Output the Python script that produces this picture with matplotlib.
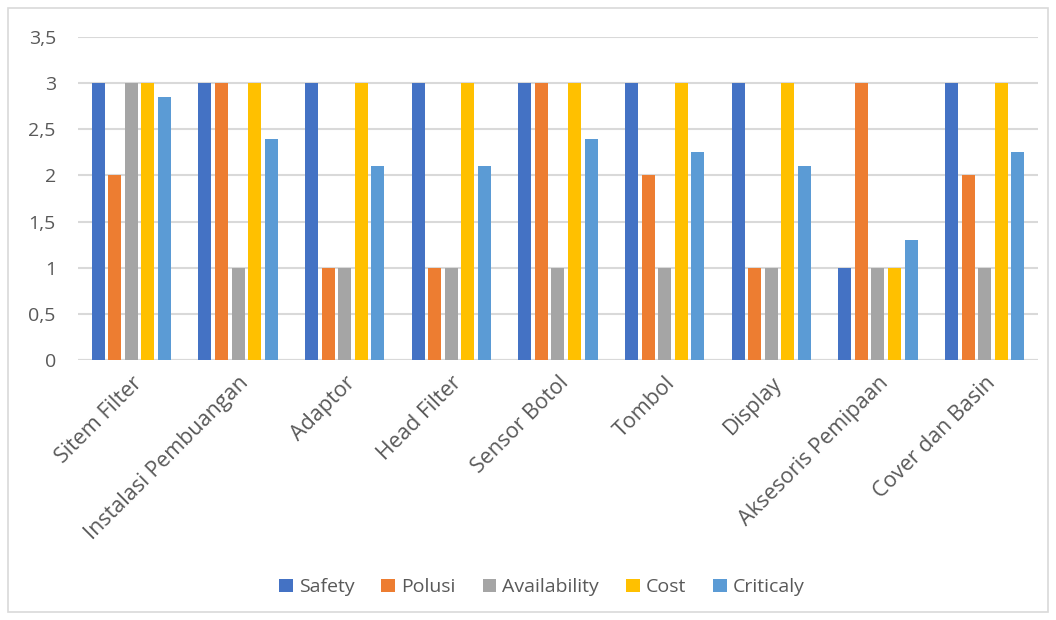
import numpy as np
import matplotlib.pyplot as plt
from matplotlib.patches import Rectangle

categories = ["Sitem Filter", "Instalasi Pembuangan", "Adaptor", "Head Filter",
              "Sensor Botol", "Tombol", "Display", "Aksesoris Pemipaan", "Cover dan Basin"]
safety = [3, 3, 3, 3, 3, 3, 3, 1, 3]
polusi = [2, 3, 1, 1, 3, 2, 1, 3, 2]
availability = [3, 1, 1, 1, 1, 1, 1, 1, 1]
cost = [3, 3, 3, 3, 3, 3, 3, 1, 3]
criticaly = [2.85, 2.4, 2.1, 2.1, 2.4, 2.25, 2.1, 1.3, 2.25]

series = [("Safety", safety, "#4472c4"),
          ("Polusi", polusi, "#ed7d31"),
          ("Availability", availability, "#a5a5a5"),
          ("Cost", cost, "#ffc000"),
          ("Criticaly", criticaly, "#5b9bd5")]

plt.rcParams["font.family"] = ["Open Sans", "DejaVu Sans"]
txt = "#595959"

fig = plt.figure(figsize=(10.56, 6.2), dpi=100)
ax = fig.add_axes([0.0739, 0.4194, 0.909, 0.5209])

x = np.arange(len(categories))
step = 0.155
bw = 0.122
for i, (name, vals, col) in enumerate(series):
    ax.bar(x + (i - 2) * step, vals, width=bw, color=col, label=name, zorder=3)

ax.set_xlim(-0.5, len(categories) - 0.5)
ax.set_ylim(0, 3.5)
ax.set_yticks(np.arange(0, 3.51, 0.5))
ax.set_yticklabels(["0", "0,5", "1", "1,5", "2", "2,5", "3", "3,5"])
ax.yaxis.grid(True, color="#d9d9d9", linewidth=1.5, zorder=0)
ax.set_xticks(x)
ax.set_xticklabels(categories, rotation=45, ha="right", rotation_mode="anchor")
ax.tick_params(axis="y", length=0, labelsize=14, colors=txt, pad=16)
ax.tick_params(axis="x", length=0, labelsize=15.5, colors=txt, pad=9)
for s in ax.spines.values():
    s.set_visible(False)
ax.axhline(0, color="#d9d9d9", linewidth=1.5, zorder=2)

leg = fig.legend(loc="center", bbox_to_anchor=(0.513, 0.053), ncol=5, frameon=False,
                 fontsize=14, handlelength=0.7, handleheight=0.7, handletextpad=0.3,
                 columnspacing=1.4)
for t in leg.get_texts():
    t.set_color(txt)

fig.patches.append(Rectangle((0.008, 0.013), 0.984, 0.974, transform=fig.transFigure,
                             fill=False, edgecolor="#d9d9d9", linewidth=1.2))

fig.savefig("out.png", dpi=100)
